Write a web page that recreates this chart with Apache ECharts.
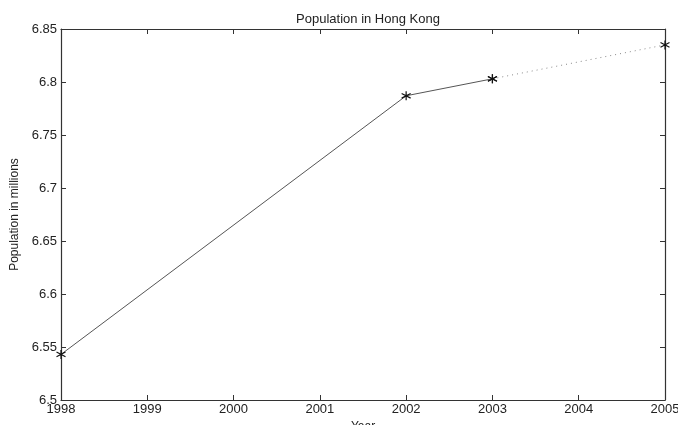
<!DOCTYPE html>
<html>
<head>
<meta charset="utf-8">
<script src="https://cdn.jsdelivr.net/npm/echarts@6/dist/echarts.min.js"></script>
<style>
html, body { margin: 0; padding: 0; background: #fff; }
#chart { width: 678px; height: 425px; }
</style>
</head>
<body>
<div id="chart"></div>
<script>
// measured years and population (millions)
const years = [1998, 2002, 2003]
const population = [6.543, 6.787, 6.803]
// projection to 2005
const projYears = [2003, 2005]
const projPopulation = [6.803, 6.835]

const star = 'path://M0,-5L0,5M-4.4,-2.6L4.4,2.6M-4.4,2.6L4.4,-2.6'
const font = 'Liberation Sans, Arial, sans-serif'
const lineColor = '#555'

const chart = echarts.init(document.getElementById('chart'), null, { renderer: 'canvas' })

const tick = { show: true, inside: true, length: 5, lineStyle: { color: '#333', width: 1 } }
const axisLine = { show: true, lineStyle: { color: '#333', width: 1.2 } }

const option = {
    animation: false,
    title: {
        text: 'Population in Hong Kong',
        left: 363, top: 8, textAlign: 'center',
        textStyle: { fontFamily: font, fontSize: 13, fontWeight: 'normal', color: '#222' }
    },
    grid: { left: 61, right: 13, top: 29, bottom: 25, containLabel: false, outerBoundsMode: 'none' },
    xAxis: [{
        type: 'value', min: 1998, max: 2005, interval: 1,
        name: 'Year', nameLocation: 'middle', nameGap: 21,
        nameTextStyle: { fontFamily: font, fontSize: 12, color: '#222' },
        axisLine: axisLine, axisTick: tick, splitLine: { show: false },
        axisLabel: { fontFamily: font, fontSize: 13, color: '#222', margin: 3, formatter: v => String(v) }
    }, {
        type: 'value', min: 1998, max: 2005, interval: 1, position: 'top',
        axisLine: axisLine, axisTick: tick, splitLine: { show: false }, axisLabel: { show: false }
    }],
    yAxis: [{
        type: 'value', min: 6.5, max: 6.85, interval: 0.05,
        name: 'Population in millions', nameLocation: 'middle', nameGap: 39,
        nameTextStyle: { fontFamily: font, fontSize: 12, color: '#222' },
        axisLine: axisLine, axisTick: tick, splitLine: { show: false },
        axisLabel: {
            fontFamily: font, fontSize: 13, color: '#222', margin: 4,
            formatter: v => String(parseFloat(v.toFixed(2)))
        }
    }, {
        type: 'value', min: 6.5, max: 6.85, interval: 0.05, position: 'right',
        axisLine: axisLine, axisTick: tick, splitLine: { show: false }, axisLabel: { show: false }
    }],
    series: [{
        type: 'line',
        data: years.map((y, i) => [y, population[i]]),
        symbol: star, symbolSize: 9,
        lineStyle: { color: lineColor, width: 1 },
        itemStyle: { color: 'transparent', borderColor: '#111', borderWidth: 1.2 },
        z: 3
    }, {
        type: 'line',
        data: projYears.map((y, i) => [y, projPopulation[i]]),
        symbol: star, symbolSize: 9,
        lineStyle: { color: '#888', width: 1, type: [1, 4] },
        itemStyle: { color: 'transparent', borderColor: '#111', borderWidth: 1.2 },
        z: 2
    }]
}
chart.setOption(option)
</script>
</body>
</html>
